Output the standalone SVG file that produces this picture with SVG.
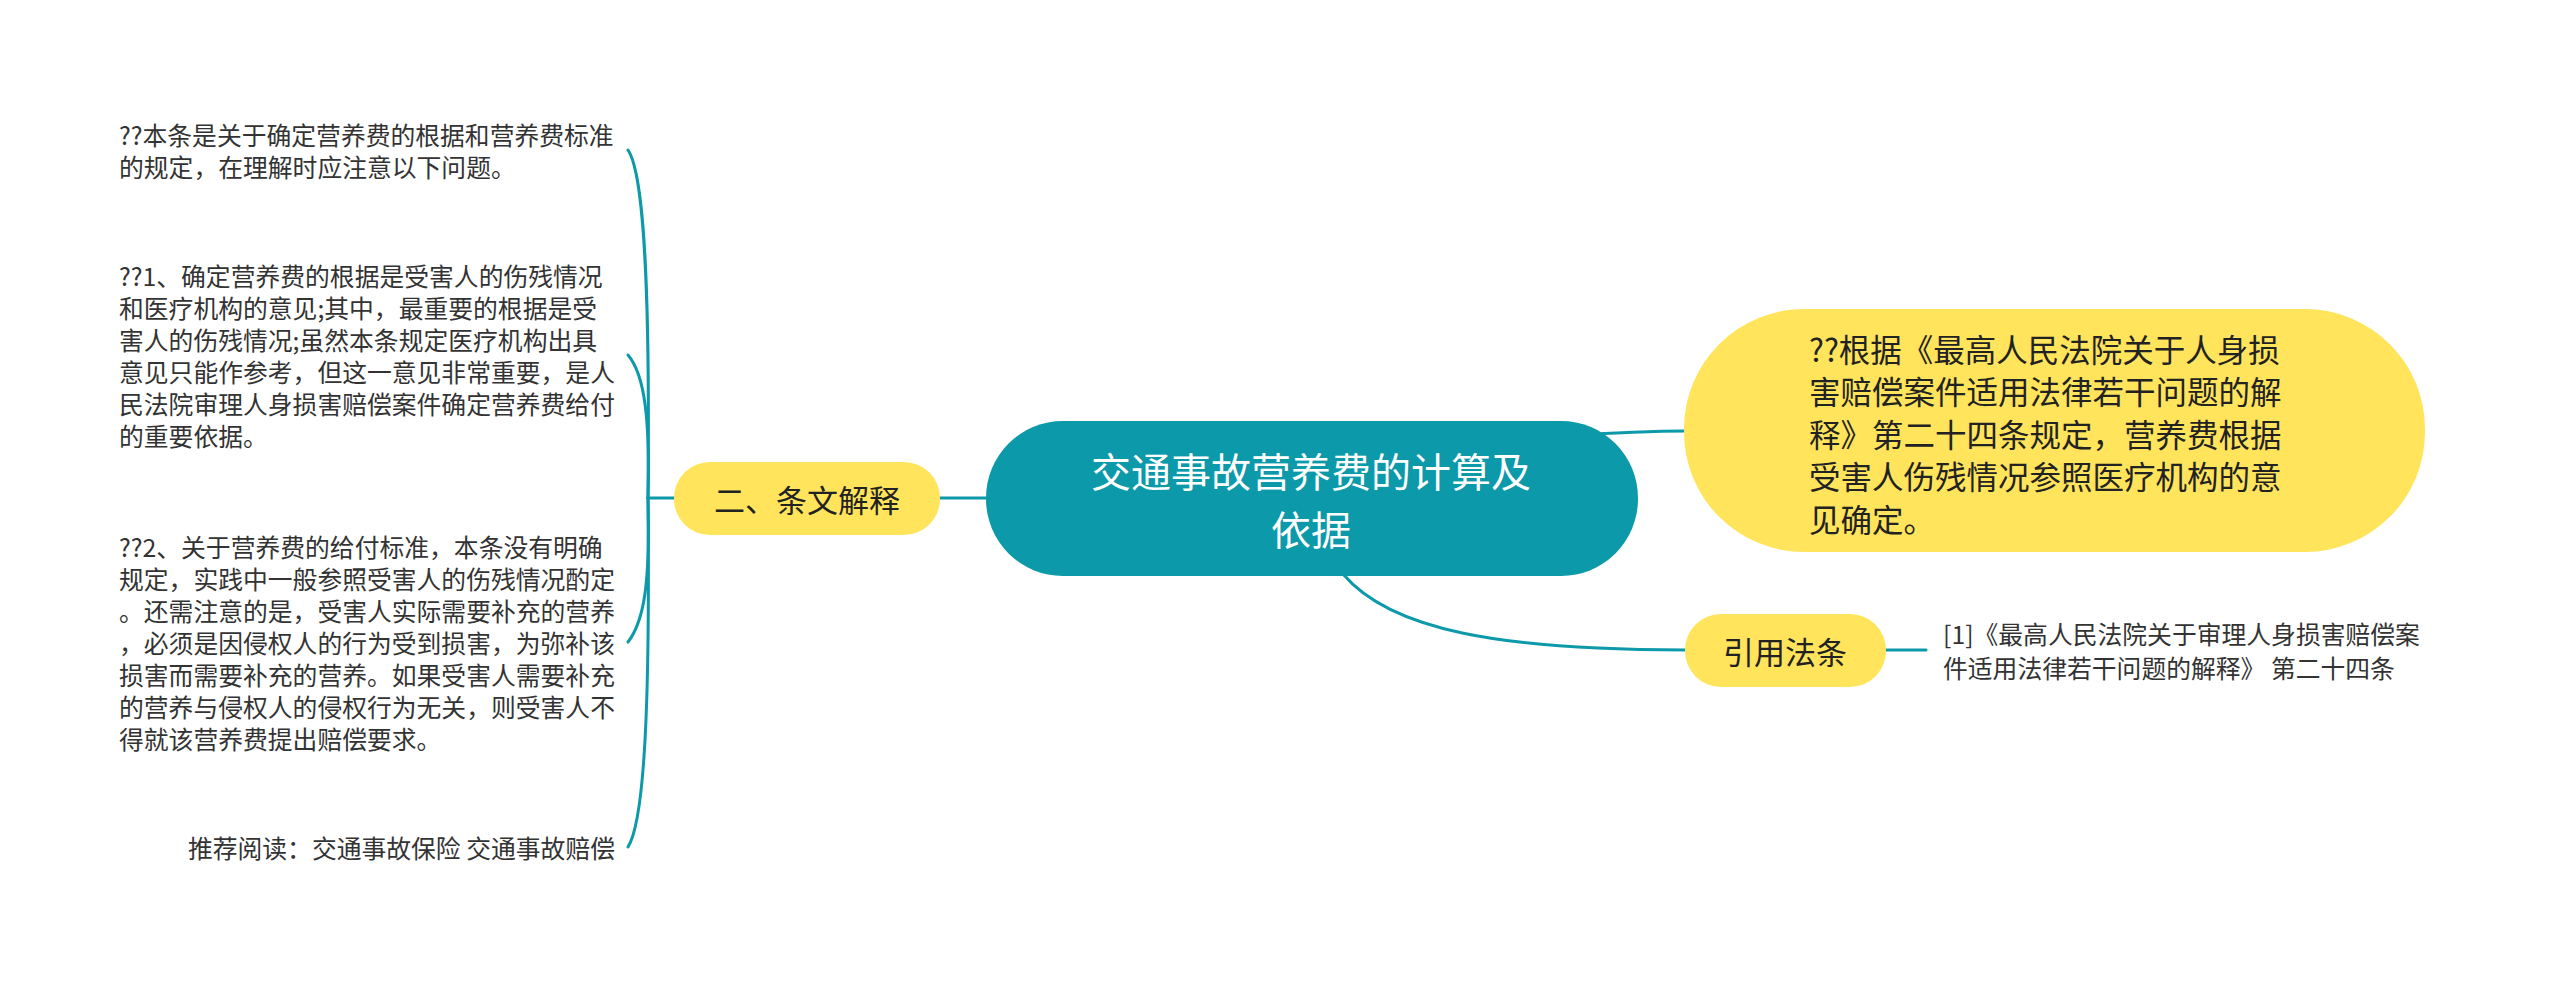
<svg xmlns="http://www.w3.org/2000/svg" width="2560" height="982" viewBox="0 0 2560 982">
<style>
text{font-family:"Noto Sans CJK SC","Noto Sans",sans-serif;dominant-baseline:central}
.leaf{font-size:24.8px;fill:#333333}
.conn{fill:none;stroke:#0C99A9;stroke-width:3;stroke-linecap:round}
.yellow{fill:#FFE45C}
.main{font-size:31px;fill:#222222;text-anchor:middle}
</style>
<rect width="2560" height="982" fill="#ffffff"/>
<g id="connectors">
<path class="conn" d="M940 498 L986 498"/>
<path class="conn" d="M648 498 L674 498"/>
<path class="conn" d="M648 498 C650 300 645 175 628 150"/>
<path class="conn" d="M648 498 C650 420 645 375 628 355"/>
<path class="conn" d="M648 498 C650 580 645 620 628 642"/>
<path class="conn" d="M648 498 C650 700 645 820 628 847"/>
<path class="conn" d="M1560 436 C1610 433 1650 431 1685 431"/>
<path class="conn" d="M1343 574 C1390 630 1500 650 1685 650"/>
<path class="conn" d="M1886 650 L1926 650"/>
</g>
<g id="central">
<rect x="986" y="421" width="652" height="155" rx="77" fill="#0C99A9"/>
<text x="1311" y="470" font-size="40" fill="#ffffff" text-anchor="middle">交通事故营养费的计算及</text>
<text x="1311" y="528" font-size="40" fill="#ffffff" text-anchor="middle">依据</text>
</g>
<g id="node-tiaowen">
<rect class="yellow" x="674" y="462" width="266" height="73" rx="36"/>
<text class="main" x="807" y="498">二、条文解释</text>
</g>
<g id="leaf-1">
<text class="leaf" x="119" y="134">??本条是关于确定营养费的根据和营养费标准</text>
<text class="leaf" x="119" y="166">的规定，在理解时应注意以下问题。</text>
</g>
<g id="leaf-2">
<text class="leaf" x="119" y="275">??1、确定营养费的根据是受害人的伤残情况</text>
<text class="leaf" x="119" y="307">和医疗机构的意见;其中，最重要的根据是受</text>
<text class="leaf" x="119" y="339">害人的伤残情况;虽然本条规定医疗机构出具</text>
<text class="leaf" x="119" y="371">意见只能作参考，但这一意见非常重要，是人</text>
<text class="leaf" x="119" y="403">民法院审理人身损害赔偿案件确定营养费给付</text>
<text class="leaf" x="119" y="435">的重要依据。</text>
</g>
<g id="leaf-3">
<text class="leaf" x="119" y="546">??2、关于营养费的给付标准，本条没有明确</text>
<text class="leaf" x="119" y="578">规定，实践中一般参照受害人的伤残情况酌定</text>
<text class="leaf" x="119" y="610">。还需注意的是，受害人实际需要补充的营养</text>
<text class="leaf" x="119" y="642">，必须是因侵权人的行为受到损害，为弥补该</text>
<text class="leaf" x="119" y="674">损害而需要补充的营养。如果受害人需要补充</text>
<text class="leaf" x="119" y="706">的营养与侵权人的侵权行为无关，则受害人不</text>
<text class="leaf" x="119" y="738">得就该营养费提出赔偿要求。</text>
</g>
<g id="leaf-4">
<text class="leaf" x="615" y="847" text-anchor="end">推荐阅读：交通事故保险 交通事故赔偿</text>
</g>
<g id="node-basis">
<rect class="yellow" x="1684" y="309" width="741" height="243" rx="120"/>
<text x="1809" y="348" font-size="31.5" fill="#222222">??根据《最高人民法院关于人身损</text>
<text x="1809" y="390" font-size="31.5" fill="#222222">害赔偿案件适用法律若干问题的解</text>
<text x="1809" y="433" font-size="31.5" fill="#222222">释》第二十四条规定，营养费根据</text>
<text x="1809" y="475" font-size="31.5" fill="#222222">受害人伤残情况参照医疗机构的意</text>
<text x="1809" y="518" font-size="31.5" fill="#222222">见确定。</text>
</g>
<g id="node-cite">
<rect class="yellow" x="1685" y="614" width="201" height="73" rx="36"/>
<text class="main" x="1785" y="650">引用法条</text>
</g>
<g id="leaf-cite">
<text class="leaf" x="1943" y="633">[1]《最高人民法院关于审理人身损害赔偿案</text>
<text class="leaf" x="1943" y="667">件适用法律若干问题的解释》 第二十四条</text>
</g>
</svg>
